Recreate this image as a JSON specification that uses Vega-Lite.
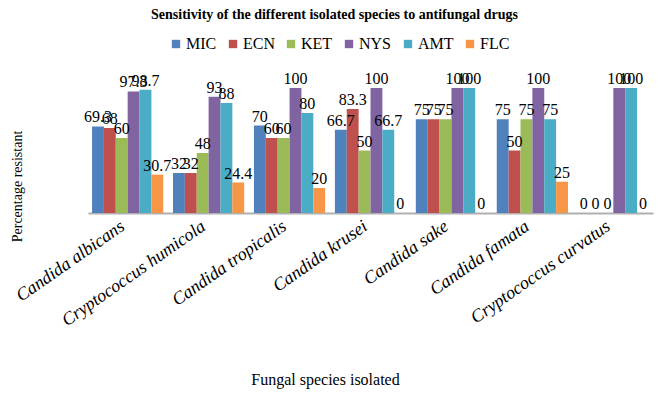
{
  "$schema": "https://vega.github.io/schema/vega-lite/v6.json",
  "width": 565,
  "height": 125,
  "autosize": "none",
  "padding": {"left": 88, "top": 88, "right": 16, "bottom": 182},
  "background": "white",
  "title": {
    "text": "Sensitivity of the different isolated species to antifungal drugs",
    "font": "Liberation Serif",
    "fontSize": 14,
    "fontWeight": "bold",
    "color": "#000000",
    "anchor": "middle",
    "dx": -36,
    "offset": 14
  },
  "data": {
    "values": [
      {"species": "Candida albicans", "drug": "MIC", "value": 69.3},
      {"species": "Candida albicans", "drug": "ECN", "value": 68},
      {"species": "Candida albicans", "drug": "KET", "value": 60},
      {"species": "Candida albicans", "drug": "NYS", "value": 97.3},
      {"species": "Candida albicans", "drug": "AMT", "value": 98.7},
      {"species": "Candida albicans", "drug": "FLC", "value": 30.7},
      {"species": "Cryptococcus humicola", "drug": "MIC", "value": 32},
      {"species": "Cryptococcus humicola", "drug": "ECN", "value": 32},
      {"species": "Cryptococcus humicola", "drug": "KET", "value": 48},
      {"species": "Cryptococcus humicola", "drug": "NYS", "value": 93},
      {"species": "Cryptococcus humicola", "drug": "AMT", "value": 88},
      {"species": "Cryptococcus humicola", "drug": "FLC", "value": 24.4},
      {"species": "Candida tropicalis", "drug": "MIC", "value": 70},
      {"species": "Candida tropicalis", "drug": "ECN", "value": 60},
      {"species": "Candida tropicalis", "drug": "KET", "value": 60},
      {"species": "Candida tropicalis", "drug": "NYS", "value": 100},
      {"species": "Candida tropicalis", "drug": "AMT", "value": 80},
      {"species": "Candida tropicalis", "drug": "FLC", "value": 20},
      {"species": "Candida krusei", "drug": "MIC", "value": 66.7},
      {"species": "Candida krusei", "drug": "ECN", "value": 83.3},
      {"species": "Candida krusei", "drug": "KET", "value": 50},
      {"species": "Candida krusei", "drug": "NYS", "value": 100},
      {"species": "Candida krusei", "drug": "AMT", "value": 66.7},
      {"species": "Candida krusei", "drug": "FLC", "value": 0},
      {"species": "Candida sake", "drug": "MIC", "value": 75},
      {"species": "Candida sake", "drug": "ECN", "value": 75},
      {"species": "Candida sake", "drug": "KET", "value": 75},
      {"species": "Candida sake", "drug": "NYS", "value": 100},
      {"species": "Candida sake", "drug": "AMT", "value": 100},
      {"species": "Candida sake", "drug": "FLC", "value": 0},
      {"species": "Candida famata", "drug": "MIC", "value": 75},
      {"species": "Candida famata", "drug": "ECN", "value": 50},
      {"species": "Candida famata", "drug": "KET", "value": 75},
      {"species": "Candida famata", "drug": "NYS", "value": 100},
      {"species": "Candida famata", "drug": "AMT", "value": 75},
      {"species": "Candida famata", "drug": "FLC", "value": 25},
      {"species": "Cryptococcus curvatus", "drug": "MIC", "value": 0},
      {"species": "Cryptococcus curvatus", "drug": "ECN", "value": 0},
      {"species": "Cryptococcus curvatus", "drug": "KET", "value": 0},
      {"species": "Cryptococcus curvatus", "drug": "NYS", "value": 100},
      {"species": "Cryptococcus curvatus", "drug": "AMT", "value": 100},
      {"species": "Cryptococcus curvatus", "drug": "FLC", "value": 0}
    ]
  },
  "encoding": {
    "x": {
      "field": "species",
      "type": "nominal",
      "sort": null,
      "scale": {"paddingInner": 0.12, "paddingOuter": 0.05},
      "axis": {
        "title": "Fungal species isolated",
        "titleFont": "Liberation Serif",
        "titleFontSize": 16,
        "titleFontWeight": "normal",
        "titleColor": "#000000",
        "titleX": 237,
        "titleY": 158,
        "labelFont": "Liberation Serif",
        "labelFontSize": 18,
        "labelFontStyle": "italic",
        "labelColor": "#000000",
        "labelAngle": -35,
        "labelAlign": "right",
        "labelBaseline": "top",
        "labelPadding": 4,
        "labelOffset": -10,
        "ticks": false,
        "domainColor": "#b0b0b0",
        "domainWidth": 2
      }
    },
    "xOffset": {"field": "drug", "type": "nominal", "sort": ["MIC", "ECN", "KET", "NYS", "AMT", "FLC"]},
    "y": {
      "field": "value",
      "type": "quantitative",
      "scale": {"domain": [0, 100]},
      "axis": {
        "title": "Percentage resistant",
        "titleFont": "Liberation Serif",
        "titleFontSize": 14,
        "titleFontWeight": "normal",
        "titleColor": "#000000",
        "titleX": -64,
        "titleY": 98,
        "labels": false,
        "ticks": false,
        "domain": false,
        "grid": false
      }
    }
  },
  "layer": [
    {
      "mark": {"type": "bar"},
      "encoding": {
        "color": {
          "field": "drug",
          "type": "nominal",
          "sort": ["MIC", "ECN", "KET", "NYS", "AMT", "FLC"],
          "scale": {
            "domain": ["MIC", "ECN", "KET", "NYS", "AMT", "FLC"],
            "range": ["#4F81BD", "#C0504D", "#9BBB59", "#8064A2", "#4BACC6", "#F79646"]
          },
          "legend": {
            "title": null,
            "orient": "none",
            "legendX": 80,
            "legendY": -52,
            "direction": "horizontal",
            "symbolType": "square",
            "symbolSize": 70,
            "symbolStrokeWidth": 0,
            "labelFont": "Liberation Serif",
            "labelFontSize": 16,
            "labelColor": "#000000",
            "labelOffset": 2,
            "columnPadding": 8
          }
        }
      }
    },
    {
      "mark": {"type": "text", "dy": -9, "font": "Liberation Serif", "fontSize": 16, "color": "#000000"},
      "encoding": {
        "text": {"field": "value", "type": "quantitative"}
      }
    }
  ],
  "config": {"view": {"stroke": null}, "font": "Liberation Serif"}
}
